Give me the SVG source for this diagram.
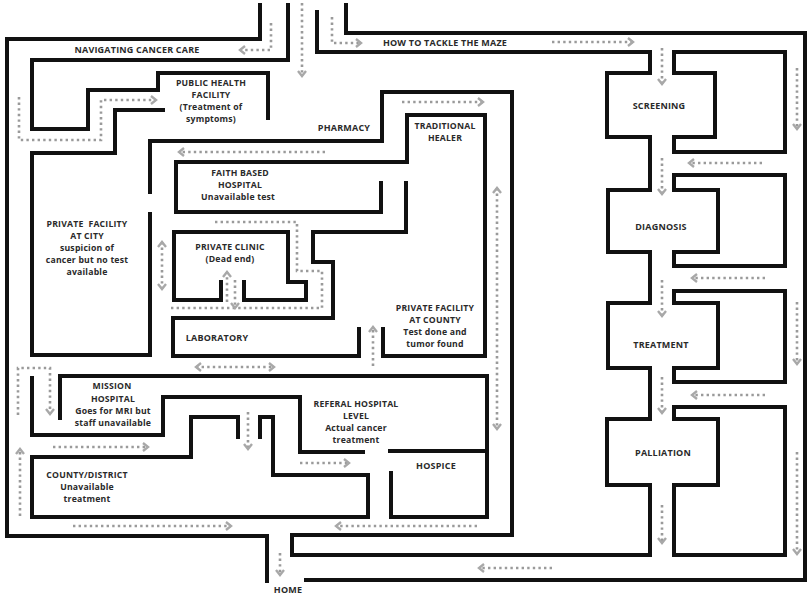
<svg xmlns="http://www.w3.org/2000/svg" width="807" height="597" viewBox="0 0 807 597">
<style>
.w{fill:none;stroke:#111;stroke-width:4;stroke-linejoin:miter;stroke-linecap:square}
.d{fill:none;stroke:#9a9a9a;stroke-width:2.6;stroke-dasharray:2.4 3.2}
.e{marker-end:url(#ah)}
.b{marker-start:url(#ah);marker-end:url(#ah)}
text{font-family:"Open Sans","Noto Sans","Liberation Sans",sans-serif;font-weight:bold;font-size:9px;letter-spacing:0.2px;fill:#2a2a2a;text-anchor:middle}
.m text{font-size:8.7px}
</style>
<defs>
<marker id="ah" viewBox="0 0 10 10" refX="8" refY="5" markerWidth="10" markerHeight="10" markerUnits="userSpaceOnUse" orient="auto-start-reverse">
<path d="M3,1 L8,5 L3,9" fill="none" stroke="#a8a8a8" stroke-width="2.4"/>
</marker>
</defs>
<rect width="807" height="597" fill="#fff"/>
<g id="walls">
<polyline class="w" points="260,5 260,39 7,39 7,536 267,536 267,581"/>
<polyline class="w" points="346,5 346,33 805,33 805,580 306,580"/>
<polyline class="w" points="288,5 288,60 32,60 32,129 88,129 88,90 158,90 158,73 268,73 268,118"/>
<polyline class="w" points="317,12 317,52 650,52 650,73 607,73 607,137 650,137 650,190 608,190 608,252 650,252 650,303 608,303 608,368 650,368 650,419 607,419 607,485 650,485 650,555 292,555 292,535 512,535 512,92 382,92 382,141 150,141 150,192"/>
<polygon class="w" points="674,52 785,52 785,152 674,152 674,137 715,137 715,73 674,73"/>
<polygon class="w" points="674,175 785,175 785,266 674,266 674,252 718,252 718,190 674,190"/>
<polygon class="w" points="674,291 785,291 785,382 674,382 674,368 718,368 718,303 674,303"/>
<polygon class="w" points="674,407 785,407 785,555 674,555 674,485 718,485 718,419 674,419"/>
<polyline class="w" points="163,110 115,110 115,153 32,153 32,355 150,355 150,214"/>
<polyline class="w" points="383,329 383,356 485,356 485,115 407,115 407,162 176,162 176,212 381,212 381,183"/>
<polyline class="w" points="406,183 406,232 313,232 313,262 333,262 333,318 173,318 173,356 359,356 359,329"/>
<polyline class="w" points="221,282 221,300 174,300 174,232 288,232 288,282 306,282 306,300 244,300 244,282"/>
<polyline class="w" points="60,418 60,376 487,376 487,517 391,517 391,473"/>
<polyline class="w" points="390,451 487,451"/>
<polyline class="w" points="32,378 32,435 163,435 163,397 300,397 300,452 363,452"/>
<polyline class="w" points="238,437 238,417 191,417 191,457 32,457 32,517 368,517 368,475 273,475 273,417 260,417 260,437"/>
</g>
<g id="connectors">
<polyline class="d e" points="271,23 271,50 240,50"/>
<polyline class="d e" points="302,3 302,76"/>
<polyline class="d e" points="332,17 332,43 361,43"/>
<polyline class="d e" points="552,42 633,42"/>
<polyline class="d e" points="19,97 19,140 101,140 101,100 156,100"/>
<polyline class="d e" points="325,152 179,152"/>
<polyline class="d e" points="402,102 483,102"/>
<polyline class="d b" points="162,242 162,289"/>
<polyline class="d" points="215,222 297,222 297,271 322,271 322,308 168,308"/>
<polyline class="d e" points="227,302 227,272"/>
<polyline class="d e" points="235,280 235,308"/>
<polyline class="d b" points="196,367 274,367"/>
<polyline class="d e" points="373,366 373,327"/>
<polyline class="d b" points="497,188 497,429"/>
<polyline class="d e" points="18,415 18,368 50,368 50,414"/>
<polyline class="d e" points="53,447 148,447"/>
<polyline class="d e" points="248,412 248,449"/>
<polyline class="d e" points="300,463 349,463"/>
<polyline class="d e" points="20,516 20,449"/>
<polyline class="d e" points="73,526 231,526"/>
<polyline class="d e" points="477,526 336,526"/>
<polyline class="d e" points="280,553 280,575"/>
<polyline class="d e" points="552,568 479,568"/>
<polyline class="d e" points="662,48 662,84"/>
<polyline class="d e" points="797,68 797,129"/>
<polyline class="d e" points="762,163 689,163"/>
<polyline class="d e" points="662,158 662,194"/>
<polyline class="d e" points="662,280 662,316"/>
<polyline class="d e" points="765,278 692,278"/>
<polyline class="d e" points="797,302 797,364"/>
<polyline class="d e" points="662,377 662,413"/>
<polyline class="d e" points="765,395 692,395"/>
<polyline class="d e" points="662,505 662,543"/>
<polyline class="d e" points="797,452 797,554"/>
</g>
<g id="labels">
<g id="n-navigating"><text x="137" y="53">NAVIGATING CANCER CARE</text></g>
<g id="n-tackle"><text x="445" y="46">HOW TO TACKLE THE MAZE</text></g>
<g id="n-public" class="m"><text x="211" y="86">PUBLIC HEALTH</text><text x="211" y="98">FACILITY</text><text x="211" y="110">(Treatment of</text><text x="211" y="122">symptoms)</text></g>
<g id="n-pharmacy"><text x="344" y="131">PHARMACY</text></g>
<g id="n-traditional" class="m"><text x="445" y="129">TRADITIONAL</text><text x="445" y="141">HEALER</text></g>
<g id="n-faith" class="m"><text x="240" y="176">FAITH BASED</text><text x="240" y="188">HOSPITAL</text><text x="238" y="200">Unavailable test</text></g>
<g id="n-city" class="m"><text x="87" y="227" xml:space="preserve">PRIVATE  FACILITY</text><text x="87" y="239">AT CITY</text><text x="87" y="251">suspicion of</text><text x="87" y="263">cancer but no test</text><text x="87" y="275">available</text></g>
<g id="n-clinic" class="m"><text x="230" y="250">PRIVATE CLINIC</text><text x="230" y="262">(Dead end)</text></g>
<g id="n-lab"><text x="217" y="341">LABORATORY</text></g>
<g id="n-county" class="m"><text x="435" y="311">PRIVATE FACILITY</text><text x="435" y="323">AT COUNTY</text><text x="435" y="335">Test done and</text><text x="435" y="347">tumor found</text></g>
<g id="n-mission" class="m"><text x="112" y="389">MISSION</text><text x="113" y="402">HOSPITAL</text><text x="113" y="414">Goes for MRI but</text><text x="113" y="426">staff unavailable</text></g>
<g id="n-referal" class="m"><text x="356" y="407">REFERAL HOSPITAL</text><text x="356" y="419">LEVEL</text><text x="356" y="431">Actual cancer</text><text x="356" y="443">treatment</text></g>
<g id="n-hospice"><text x="436" y="469">HOSPICE</text></g>
<g id="n-district" class="m"><text x="87" y="478">COUNTY/DISTRICT</text><text x="87" y="490">Unavailable</text><text x="87" y="502">treatment</text></g>
<g id="n-home"><text x="288" y="593">HOME</text></g>
<g id="n-screening"><text x="659" y="109">SCREENING</text></g>
<g id="n-diagnosis"><text x="661" y="230">DIAGNOSIS</text></g>
<g id="n-treatment"><text x="661" y="348">TREATMENT</text></g>
<g id="n-palliation"><text x="663" y="456">PALLIATION</text></g>
</g>
</svg>
